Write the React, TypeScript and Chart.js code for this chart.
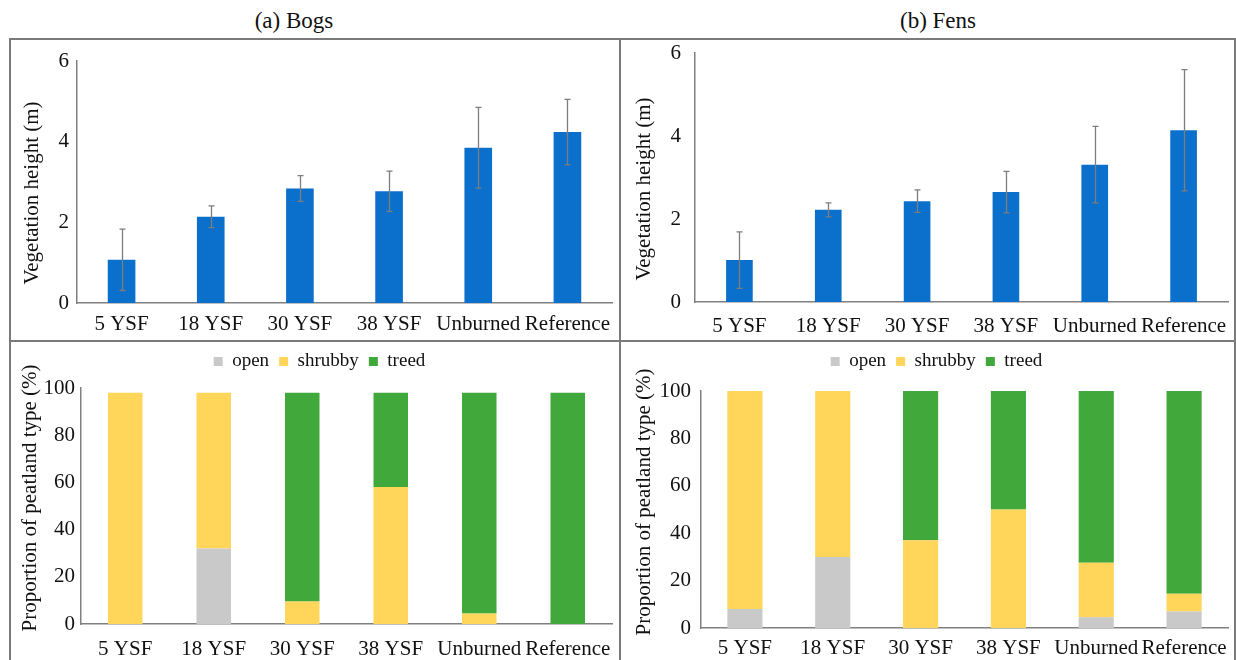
import React, { useEffect, useRef } from "react";
import { Chart, registerables } from "chart.js";

Chart.register(...registerables);

// ---- data ----
const categories = ["5 YSF", "18 YSF", "30 YSF", "38 YSF", "Unburned", "Reference"];

const bogHeight = [1.07, 2.14, 2.84, 2.77, 3.85, 4.24];
const bogHeightErr = [0.76, 0.27, 0.32, 0.5, 1.0, 0.81];
const fenHeight = [1.01, 2.22, 2.43, 2.65, 3.31, 4.14];
const fenHeightErr = [0.68, 0.17, 0.27, 0.5, 0.92, 1.46];

const heightTicks = [0, 2, 4, 6];
const shareTicks = [0, 20, 40, 60, 80, 100];

const bogOpen = [0, 32, 0, 0, 0, 0];
const bogShrubby = [98, 66, 9.5, 58, 4.5, 0];
const bogTreed = [0, 0, 88.5, 40, 93.5, 98];

const fenOpen = [8, 30, 0, 0, 4.5, 7];
const fenShrubby = [92, 70, 37, 50, 23, 7.5];
const fenTreed = [0, 0, 63, 50, 72.5, 85.5];

const typeNames = ["open", "shrubby", "treed"];

// ---- style ----
const SERIF = "'Liberation Serif', 'DejaVu Serif', serif";
const TEXT = "#111111";
const AXIS = "#808080";
const FRAME = "#7a7a7a";
const BLUE = "#0b6fcc";
const GREY = "#c9c9c9";
const YELLOW = "#ffd55a";
const GREEN = "#41a83b";

Chart.defaults.font.family = SERIF;
Chart.defaults.color = TEXT;

// vertical error bars with small caps at both ends
const errorBarPlugin = {
  id: "errorBars",
  afterDatasetsDraw(chart: any, _args: any, opts: any) {
    const errs: number[] | undefined = opts && opts.errors;
    if (!errs) return;
    const meta = chart.getDatasetMeta(0);
    const values = chart.data.datasets[0].data as number[];
    const yScale = chart.scales.y;
    const ctx = chart.ctx;
    const cap = opts.cap ?? 3;
    ctx.save();
    ctx.strokeStyle = opts.color || "#777";
    ctx.lineWidth = opts.width || 1;
    meta.data.forEach((bar: any, i: number) => {
      const v = values[i];
      const e = errs[i];
      const x = Math.round(bar.x) + 0.5;
      const top = yScale.getPixelForValue(v + e);
      const bot = yScale.getPixelForValue(v - e);
      ctx.beginPath();
      ctx.moveTo(x, top);
      ctx.lineTo(x, bot);
      ctx.moveTo(x - cap, top);
      ctx.lineTo(x + cap, top);
      ctx.moveTo(x - cap, bot);
      ctx.lineTo(x + cap, bot);
      ctx.stroke();
    });
    ctx.restore();
  },
};

// extra space under the legend and a horizontal nudge of its items
const legendSpacing = {
  id: "legendSpacing",
  beforeLayout(chart: any, _args: any, opts: any) {
    const lg = chart.legend;
    if (lg && !lg.__spaced) {
      const fit = lg.fit;
      lg.fit = function () {
        fit.call(this);
        this.height += opts.extra || 0;
      };
      lg.__spaced = true;
    }
  },
  afterLayout(chart: any, _args: any, opts: any) {
    const lg = chart.legend;
    if (lg && opts.dx) {
      lg.left += opts.dx;
      lg.right += opts.dx;
    }
  },
};

// rotated y-axis caption placed at a fixed point of the canvas
const sideTitlePlugin = {
  id: "sideTitle",
  afterDraw(chart: any, _args: any, opts: any) {
    if (!opts || !opts.text) return;
    const ctx = chart.ctx;
    ctx.save();
    ctx.translate(opts.x, opts.y);
    ctx.rotate(-Math.PI / 2);
    ctx.font = `${opts.size}px ${SERIF}`;
    ctx.fillStyle = TEXT;
    ctx.textAlign = "center";
    ctx.textBaseline = "middle";
    ctx.fillText(opts.text, 0, 0);
    ctx.restore();
  },
};

type PanelGeom = {
  yWidth: number;
  xHeight: number;
  padTop: number;
  padRight: number;
  titleX: number;
  titleY: number;
  tickPad: number;
  xPad: number;
};

function axes(g: PanelGeom, max: number, ticks: number[], stacked: boolean) {
  return {
    x: {
      stacked,
      grid: { display: false, drawTicks: false },
      border: { display: true, color: AXIS, width: 1.5 },
      ticks: {
        padding: g.xPad,
        maxRotation: 0,
        minRotation: 0,
        autoSkip: false,
        color: TEXT,
        font: { family: SERIF, size: 21 },
      },
      afterFit(scale: any) {
        scale.height = g.xHeight;
        scale.paddingLeft = 0;
        scale.paddingRight = 0;
      },
    },
    y: {
      stacked,
      min: 0,
      max,
      afterBuildTicks(scale: any) {
        scale.ticks = ticks.map((v) => ({ value: v }));
      },
      grid: { display: false, drawTicks: false },
      border: { display: true, color: AXIS, width: 1.5 },
      ticks: {
        padding: g.tickPad,
        color: TEXT,
        font: { family: SERIF, size: 21 },
      },
      afterFit(scale: any) {
        scale.width = g.yWidth;
        scale.paddingTop = 0;
        scale.paddingBottom = 0;
      },
    },
  };
}

function baseOptions(g: PanelGeom, title: string) {
  return {
    responsive: false,
    animation: false,
    devicePixelRatio: 1,
    layout: { padding: { top: g.padTop, right: g.padRight, left: 0, bottom: 0 } },
    sideTitle: undefined,
    titleOpts: { text: title, x: g.titleX, y: g.titleY, size: 21 },
  };
}

function heightConfig(values: number[], errs: number[], g: PanelGeom, barPct: number) {
  const base = baseOptions(g, "Vegetation height (m)");
  return {
    type: "bar",
    data: {
      labels: categories,
      datasets: [
        {
          label: "Vegetation height",
          data: values,
          backgroundColor: BLUE,
          borderWidth: 0,
          barPercentage: barPct,
          categoryPercentage: 1,
        },
      ],
    },
    options: {
      responsive: base.responsive,
      animation: base.animation,
      devicePixelRatio: base.devicePixelRatio,
      layout: base.layout,
      plugins: {
        legend: { display: false },
        tooltip: { enabled: false },
        errorBars: { errors: errs, color: "#7d7d7d", width: 1.3, cap: 3 },
        sideTitle: base.titleOpts,
      },
      scales: axes(g, 6, heightTicks, false),
    },
    plugins: [errorBarPlugin, sideTitlePlugin],
  };
}

function shareConfig(
  open: number[],
  shrubby: number[],
  treed: number[],
  g: PanelGeom,
  barPct: number,
  legendExtra: number,
  legendDx: number
) {
  const base = baseOptions(g, "Proportion of peatland type (%)");
  const series = [open, shrubby, treed];
  const colors = [GREY, YELLOW, GREEN];
  return {
    type: "bar",
    data: {
      labels: categories,
      datasets: series.map((d, i) => ({
        label: typeNames[i],
        data: d,
        backgroundColor: colors[i],
        borderWidth: 0,
        barPercentage: barPct,
        categoryPercentage: 1,
      })),
    },
    options: {
      responsive: base.responsive,
      animation: base.animation,
      devicePixelRatio: base.devicePixelRatio,
      layout: base.layout,
      plugins: {
        tooltip: { enabled: false },
        legend: {
          display: true,
          position: "top",
          align: "center",
          labels: {
            boxWidth: 9,
            boxHeight: 9,
            padding: 10,
            color: TEXT,
            font: { family: SERIF, size: 19 },
          },
        },
        legendSpacing: { extra: legendExtra, dx: legendDx },
        sideTitle: base.titleOpts,
      },
      scales: axes(g, 100, shareTicks, true),
    },
    plugins: [legendSpacing, sideTitlePlugin],
  };
}

function ChartCanvas(props: { config: any; left: number; top: number; width: number; height: number }) {
  const ref = useRef<HTMLCanvasElement | null>(null);
  useEffect(() => {
    if (!ref.current) return;
    const chart = new Chart(ref.current, props.config);
    return () => chart.destroy();
  }, []);
  return (
    <canvas
      ref={ref}
      width={props.width}
      height={props.height}
      style={{
        position: "absolute",
        left: props.left,
        top: props.top,
        width: props.width,
        height: props.height,
        display: "block",
      }}
    />
  );
}

const bogHeightCfg = heightConfig(
  bogHeight,
  bogHeightErr,
  { yWidth: 66, xHeight: 37, padTop: 21, padRight: 7, titleX: 21, titleY: 153, tickPad: 8, xPad: 9 },
  0.31
);
const fenHeightCfg = heightConfig(
  fenHeight,
  fenHeightErr,
  { yWidth: 74, xHeight: 38, padTop: 13, padRight: 6, titleX: 23, titleY: 149, tickPad: 14, xPad: 12 },
  0.3
);
const bogShareCfg = shareConfig(
  bogOpen,
  bogShrubby,
  bogTreed,
  { yWidth: 70, xHeight: 36, padTop: 0, padRight: 7, titleX: 19, titleY: 156, tickPad: 6, xPad: 13 },
  0.39,
  7,
  8
);
const fenShareCfg = shareConfig(
  fenOpen,
  fenShrubby,
  fenTreed,
  { yWidth: 80, xHeight: 32, padTop: 0, padRight: 6, titleX: 23, titleY: 160, tickPad: 10, xPad: 8 },
  0.4,
  10,
  12
);

function Line(p: { left: number; top: number; width: number; height: number }) {
  return (
    <div
      style={{
        position: "absolute",
        left: p.left,
        top: p.top,
        width: p.width,
        height: p.height,
        background: FRAME,
      }}
    />
  );
}

function Heading(p: { text: string; cx: number; cy: number }) {
  return (
    <div
      style={{
        position: "absolute",
        left: p.cx - 100,
        top: p.cy - 13,
        width: 200,
        height: 26,
        lineHeight: "26px",
        textAlign: "center",
        fontFamily: SERIF,
        fontSize: 23,
        color: TEXT,
        whiteSpace: "nowrap",
      }}
    >
      {p.text}
    </div>
  );
}

export default function App() {
  return (
    <div
      style={{
        position: "fixed",
        left: 0,
        top: 0,
        width: 1236,
        height: 660,
        overflow: "hidden",
        background: "#ffffff",
      }}
    >
      <Heading text="(a) Bogs" cx={294} cy={21} />
      <Heading text="(b) Fens" cx={938} cy={21} />

      <ChartCanvas config={bogHeightCfg} left={11} top={40} width={608} height={300} />
      <ChartCanvas config={fenHeightCfg} left={621} top={40} width={613} height={300} />
      <ChartCanvas config={bogShareCfg} left={11} top={342} width={608} height={318} />
      <ChartCanvas config={fenShareCfg} left={621} top={342} width={613} height={318} />

      {/* panel frame */}
      <Line left={9} top={38} width={1227} height={2} />
      <Line left={9} top={340} width={1227} height={2} />
      <Line left={9} top={38} width={2} height={622} />
      <Line left={619} top={38} width={2} height={622} />
      <Line left={1234} top={38} width={2} height={622} />
    </div>
  );
}
